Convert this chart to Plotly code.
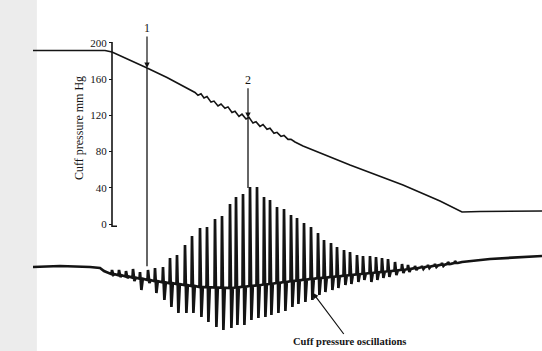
import numpy as np
import plotly.graph_objects as go

# ---------------- data ----------------
# Cuff pressure (mmHg) vs time (arbitrary units)
cuff_t = [33, 95, 105, 112, 120, 133, 146, 167, 185, 195,
          198, 201, 204, 207, 211, 214, 218, 221, 225, 228,
          232, 235, 239, 242, 246, 249, 253, 256, 260, 263,
          267, 270, 274, 277, 281, 284, 288, 291, 295,
          303, 350, 403, 440, 462, 480, 542]
cuff_mmhg = [191.7, 192.3, 191.7, 190.1, 186.2, 179.3, 172.9, 161.9, 151.4, 145.3,
             142.2, 143.8, 139.2, 140.8, 134.7, 135.8, 130.5, 132.6, 127.9, 129.4,
             123.2, 124.6, 118.8, 121.4, 116.0, 118.0, 111.5, 113.0, 107.9, 110.0,
             104.7, 105.9, 100.2, 101.3, 96.8, 97.9, 93.5, 93.6, 90.6,
             86.2, 65.2, 43.1, 25.4, 13.3, 13.8, 14.4]

# Oscillation signal (arbitrary units)
pre_t = [33, 60, 90, 100, 104, 108]
pre_v = [3, 4, 3, 2, -1, -3]
mid_t = [105, 160, 200, 230, 260, 300, 350, 400, 455]
mid_v = [-3, -12, -17, -18, -15, -10, -5, 0, 7]
cycle_t = [112, 119, 126, 133, 140, 148, 155,
           163, 170, 177, 185, 192, 200, 207, 215, 222, 230,
           236, 243, 250, 257, 264, 270, 277, 284, 291, 297,
           304, 311, 318, 324, 331, 337, 344, 350, 357, 363,
           370, 376, 382, 388, 395, 402, 408, 415, 422, 428,
           435, 442, 448, 455]
cycle_top = [0, 0, -1, 1, -2, 0, 2,
             3, 12, 15, 25, 34, 42, 43, 51, 54, 66,
             73, 76, 83, 83, 73, 70, 63, 61, 55, 52,
             47, 43, 37, 30, 27, 23, 20, 18, 15, 14,
             14, 13, 12, 11, 8, 6, 5, 4, 4, 5,
             6, 7, 8, 9]
cycle_bottom = [-5, -7, -8, -11, -20, -13, -23,
                -30, -37, -43, -43, -43, -47, -52, -57, -60, -58,
                -55, -55, -50, -48, -47, -45, -43, -41, -37, -34,
                -32, -30, -25, -22, -20, -18, -15, -14, -12, -10,
                -12, -10, -8, -7, -5, -3, -2, 0, 1, 2,
                3, 4, 6, 7]
post_t = [462, 490, 542]
post_v = [8, 11, 14]

tick_vals = [0, 40, 80, 120, 160, 200]
tick_text = ["0", "40", "80", "120", "160", "200"]

# ---------------- build traces ----------------
rise_lead, fall_lag, return_lag = 0.5, 1.4, 2.8
osc_x, osc_y = list(pre_t), list(pre_v)
for t, top, bot in zip(cycle_t, cycle_top, cycle_bottom):
    m = float(np.interp(t, mid_t, mid_v))
    osc_x += [t - rise_lead, t, t + fall_lag, t + return_lag]
    osc_y += [m, top, bot, m]
osc_x += post_t
osc_y += post_v

INK = "#141414"
SERIF = "Liberation Serif, Times New Roman, serif"

fig = go.Figure()
fig.add_trace(go.Scatter(x=cuff_t, y=cuff_mmhg, mode="lines",
                         line=dict(color=INK, width=1.6), yaxis="y",
                         hoverinfo="skip"))
fig.add_trace(go.Scatter(x=osc_x, y=osc_y, mode="lines",
                         line=dict(color=INK, width=2.7), yaxis="y2",
                         hoverinfo="skip"))

# mapping between the two scales (y2 = 46 + 0.905*mmHg)
def mmhg_to_y2(m):
    return 46 + 0.905 * m

m1 = float(np.interp(147, cuff_t, cuff_mmhg))
m2 = float(np.interp(248, cuff_t, cuff_mmhg))
end1 = float(np.interp(147, cycle_t, cycle_top)) + 4
end2 = float(np.interp(248, cycle_t, cycle_top)) + 1

shapes = [
    dict(type="rect", xref="paper", yref="paper", x0=0, x1=0.068, y0=0, y1=1,
         fillcolor="#ececec", line=dict(width=0), layer="below"),
    # vertical axis line with small foot
    dict(type="path", xref="x", yref="y",
         path="M 112,201 L 112,-2.5 L 117,-2.5",
         line=dict(color=INK, width=1.6)),
    dict(type="line", xref="x", yref="y2", x0=147, x1=147,
         y0=mmhg_to_y2(m1), y1=end1, line=dict(color=INK, width=1.3)),
    dict(type="line", xref="x", yref="y2", x0=248, x1=248,
         y0=mmhg_to_y2(m2), y1=end2, line=dict(color=INK, width=1.3)),
]

annotations = [
    dict(x=147, y=m1, xref="x", yref="y", text="1", showarrow=True,
         ax=0, ay=-40, arrowhead=2, arrowsize=0.9, arrowwidth=1.2,
         arrowcolor=INK, font=dict(family=SERIF, size=12, color=INK)),
    dict(x=248, y=m2, xref="x", yref="y", text="2", showarrow=True,
         ax=0, ay=-38, arrowhead=2, arrowsize=0.9, arrowwidth=1.2,
         arrowcolor=INK, font=dict(family=SERIF, size=12, color=INK)),
    dict(x=313, y=-23, xref="x", yref="y2", text="<b>Cuff pressure oscillations</b>",
         showarrow=True, ax=36, ay=48, arrowhead=2, arrowsize=0.9,
         arrowwidth=1.2, arrowcolor=INK,
         font=dict(family=SERIF, size=10.5, color=INK)),
    dict(x=79 / 542, y=1 - 128 / 351, xref="paper", yref="paper",
         xanchor="center", yanchor="middle",
         text="Cuff pressure mm Hg", textangle=-90, showarrow=False,
         font=dict(family=SERIF, size=12, color=INK)),
]

fig.update_layout(
    width=542, height=351,
    margin=dict(l=0, r=0, t=0, b=0),
    paper_bgcolor="white", plot_bgcolor="white",
    showlegend=False,
    xaxis=dict(range=[0, 542], visible=False),
    yaxis=dict(range=[-140.3, 247.5], anchor="free", position=112 / 542,
               tickvals=tick_vals, ticktext=tick_text, ticks="outside",
               ticklen=3, tickwidth=1.2, tickcolor=INK,
               ticklabelstandoff=0,
               showline=False, showgrid=False, zeroline=False,
               tickfont=dict(family=SERIF, size=11, color=INK)),
    yaxis2=dict(range=[-81, 270], overlaying="y", visible=False),
    shapes=shapes,
    annotations=annotations,
)

fig.write_html("out.html")
